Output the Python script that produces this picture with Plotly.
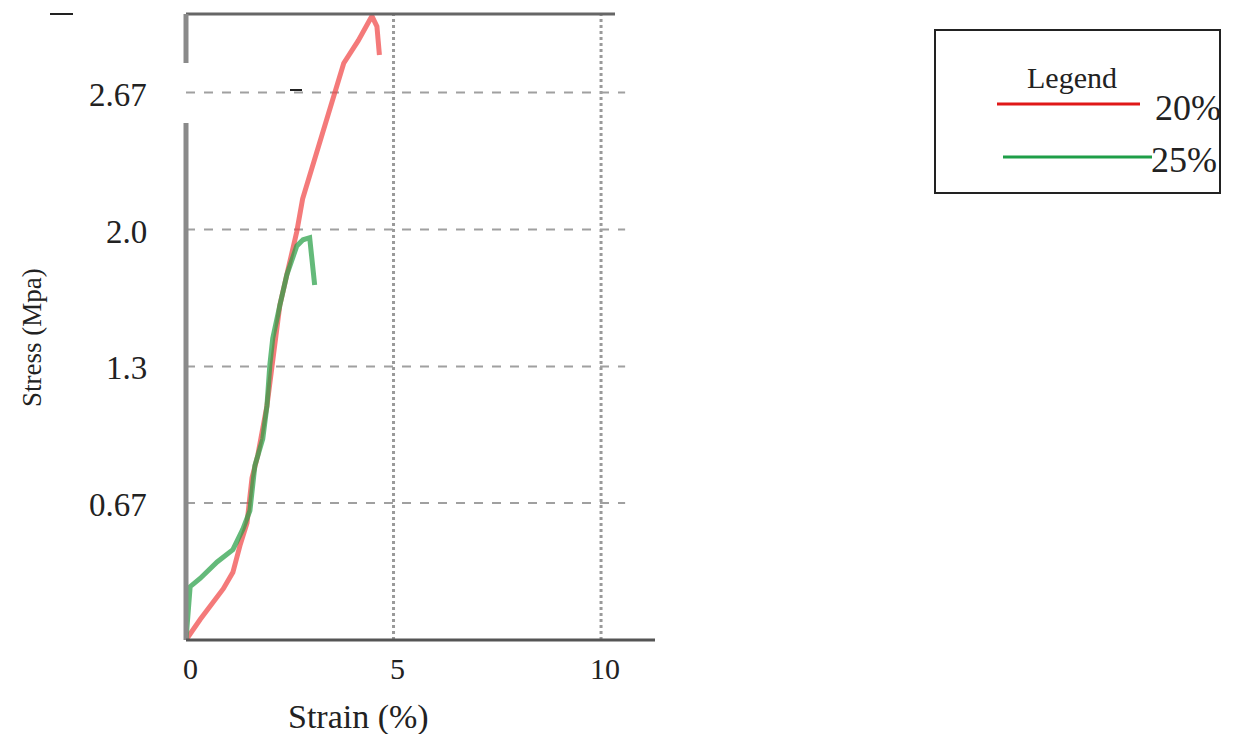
import plotly.graph_objects as go

# ---- data ----
strain_20 = [0, 0.10, 0.34, 0.90, 1.13, 1.30, 1.47, 1.59, 1.73, 1.95, 2.09, 2.26, 2.43, 2.67, 2.81, 3.05, 3.46, 3.80, 4.15, 4.48, 4.60, 4.66]
stress_20 = [0, 0.03, 0.10, 0.25, 0.33, 0.46, 0.57, 0.79, 0.90, 1.14, 1.35, 1.63, 1.78, 1.99, 2.15, 2.31, 2.59, 2.81, 2.92, 3.04, 2.99, 2.85]

strain_25 = [0, 0.02, 0.10, 0.34, 0.75, 1.13, 1.37, 1.54, 1.66, 1.85, 1.95, 2.02, 2.09, 2.26, 2.43, 2.67, 2.82, 2.98, 3.05, 3.10]
stress_25 = [0, 0.05, 0.26, 0.30, 0.38, 0.44, 0.54, 0.63, 0.85, 0.98, 1.14, 1.34, 1.47, 1.63, 1.78, 1.92, 1.95, 1.96, 1.85, 1.73]

series_names = ["20%", "25%"]
y_tickvals = [0.667, 1.333, 2.0, 2.667]
y_ticktext = ["0.67", "1.3", "2.0", "2.67"]
x_tickvals = [0, 5, 10]
x_ticktext = ["0", "5", "10"]

RED = "rgba(240,70,70,0.72)"
GREEN = "rgba(40,160,70,0.72)"
FONT = "Liberation Serif"
TXT = "#222222"

# plot area in pixels
L, R, T, B = 186, 655, 14, 640
W, H = 1235, 734
def px(xp):
    return (xp - L) / (R - L)
def py(yp):
    return (B - yp) / (B - T)

fig = go.Figure()
fig.add_trace(go.Scatter(x=strain_20, y=stress_20, mode="lines", name=series_names[0],
                         line=dict(color=RED, width=5), showlegend=False))
fig.add_trace(go.Scatter(x=strain_25, y=stress_25, mode="lines", name=series_names[1],
                         line=dict(color=GREEN, width=5), showlegend=False))

shapes = []
# horizontal dashed gridlines
for v in y_tickvals:
    shapes.append(dict(type="line", xref="x", yref="y", x0=0, x1=10.58, y0=v, y1=v,
                       line=dict(color="#a0a0a0", width=2, dash="dash"), layer="below"))
# vertical dotted lines
for v in [5, 10]:
    shapes.append(dict(type="line", xref="x", yref="paper", x0=v, x1=v, y0=0, y1=1,
                       line=dict(color="#9a9a9a", width=3, dash="dot"), layer="below"))
# top border
shapes.append(dict(type="line", xref="paper", yref="paper", x0=0, x1=px(615), y0=1, y1=1,
                   line=dict(color="#666666", width=3)))
# left axis (thick gray, with a gap near the top)
shapes.append(dict(type="line", xref="paper", yref="paper", x0=0, x1=0, y0=1, y1=py(63),
                   line=dict(color="#8a8a8a", width=5)))
shapes.append(dict(type="line", xref="paper", yref="paper", x0=0, x1=0, y0=py(123), y1=0,
                   line=dict(color="#8a8a8a", width=5)))
# bottom axis
shapes.append(dict(type="line", xref="paper", yref="paper", x0=0, x1=1, y0=0, y1=0,
                   line=dict(color="#555555", width=3)))
# small stray marks
shapes.append(dict(type="line", xref="paper", yref="paper", x0=px(290), x1=px(302), y0=py(90), y1=py(90),
                   line=dict(color=TXT, width=2)))
shapes.append(dict(type="line", xref="paper", yref="paper", x0=px(50), x1=px(73), y0=py(14), y1=py(14),
                   line=dict(color=TXT, width=2)))

# legend box (manual)
shapes.append(dict(type="rect", xref="paper", yref="paper", x0=px(935), x1=px(1220), y0=py(30), y1=py(193),
                   line=dict(color=TXT, width=2), fillcolor="white"))
shapes.append(dict(type="line", xref="paper", yref="paper", x0=px(997), x1=px(1140), y0=py(104), y1=py(104),
                   line=dict(color="#e01818", width=3)))
shapes.append(dict(type="line", xref="paper", yref="paper", x0=px(1003), x1=px(1152), y0=py(157), y1=py(157),
                   line=dict(color="#1e9e48", width=3)))

annotations = [
    dict(text="Legend", xref="paper", yref="paper", x=px(1072), y=py(77), showarrow=False,
         font=dict(family=FONT, size=30, color=TXT), xanchor="center", yanchor="middle"),
    dict(text=series_names[0], xref="paper", yref="paper", x=px(1153), y=py(108), showarrow=False,
         font=dict(family=FONT, size=36, color=TXT), xanchor="left", yanchor="middle"),
    dict(text=series_names[1], xref="paper", yref="paper", x=px(1149), y=py(160), showarrow=False,
         font=dict(family=FONT, size=36, color=TXT), xanchor="left", yanchor="middle"),
    dict(text="Strain (%)", xref="paper", yref="paper", x=px(358), y=py(717), showarrow=False,
         font=dict(family=FONT, size=34, color=TXT), xanchor="center", yanchor="middle"),
    dict(text="Stress (Mpa)", xref="paper", yref="paper", x=px(32), y=py(338), showarrow=False,
         textangle=-90, font=dict(family=FONT, size=27, color=TXT),
         xanchor="center", yanchor="middle"),
]
# tick labels placed on the axes' own scales
for v, t in zip(y_tickvals, y_ticktext):
    annotations.append(dict(text=t, xref="paper", yref="y", x=px(149), y=v, yshift=-2,
                            showarrow=False, xanchor="right", yanchor="middle",
                            font=dict(family=FONT, size=33, color=TXT)))
for v, t in zip(x_tickvals, x_ticktext):
    annotations.append(dict(text=t, xref="x", yref="paper", x=v, y=py(668), xshift=4,
                            showarrow=False, xanchor="center", yanchor="middle",
                            font=dict(family=FONT, size=30, color=TXT)))

fig.update_layout(
    width=W, height=H,
    margin=dict(l=L, r=W - R, t=T, b=H - B, autoexpand=False),
    paper_bgcolor="white", plot_bgcolor="white",
    font=dict(family=FONT, size=24, color=TXT),
    shapes=shapes, annotations=annotations,
    showlegend=False,
    xaxis=dict(range=[0, 11.3], tickvals=x_tickvals, showticklabels=False,
               showgrid=False, zeroline=False, showline=False, ticks="", fixedrange=True),
    yaxis=dict(range=[0, 3.05], tickvals=y_tickvals, showticklabels=False,
               showgrid=False, zeroline=False, showline=False, ticks="", fixedrange=True),
)

fig.write_html("out.html")
